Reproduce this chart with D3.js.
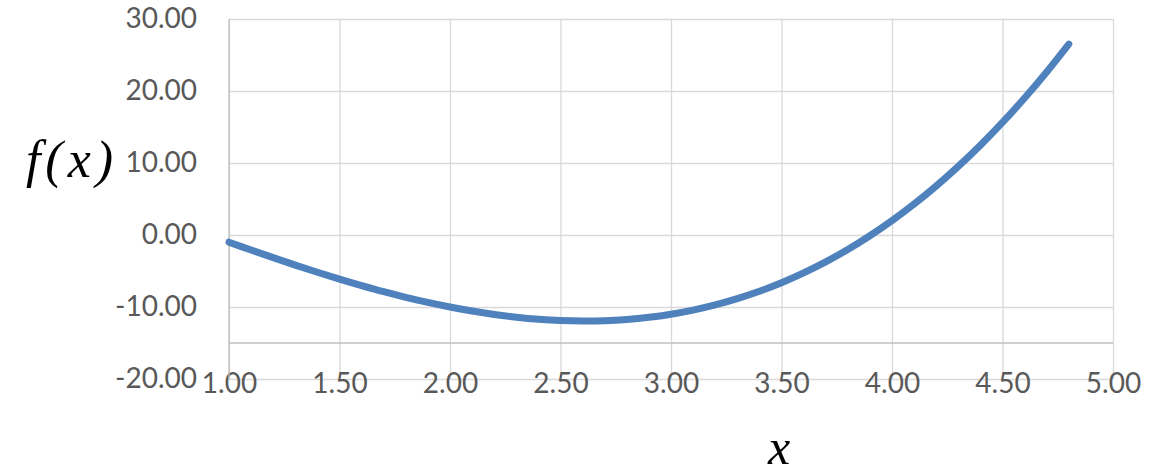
<!DOCTYPE html>
<html>
<head>
<meta charset="utf-8">
<script src="https://cdn.jsdelivr.net/npm/d3@7"></script>
<style>
  html, body { margin: 0; padding: 0; background: #fff; }
  svg { display: block; }
</style>
</head>
<body>
<div id="chart"></div>
<script>
// values
const xValues = [1.0, 1.1, 1.2, 1.3, 1.4, 1.5, 1.6, 1.7, 1.8, 1.9,
  2.0, 2.1, 2.2, 2.3, 2.4, 2.5, 2.6, 2.7, 2.8, 2.9,
  3.0, 3.1, 3.2, 3.3, 3.4, 3.5, 3.6, 3.7, 3.8, 3.9,
  4.0, 4.1, 4.2, 4.3, 4.4, 4.5, 4.6, 4.7, 4.8];
const fValues = [-1.00, -2.09, -3.15, -4.18, -5.18, -6.13, -7.02, -7.87, -8.65, -9.36,
  -10.00, -10.56, -11.03, -11.41, -11.70, -11.88, -11.94, -11.90, -11.73, -11.43,
  -11.00, -10.43, -9.71, -8.84, -7.82, -6.63, -5.26, -3.73, -2.01, -0.10,
  2.00, 4.30, 6.81, 9.53, 12.46, 15.63, 19.02, 22.64, 26.51];
const xTicks = [1.0, 1.5, 2.0, 2.5, 3.0, 3.5, 4.0, 4.5, 5.0];
const yTicks = [-20, -10, 0, 10, 20, 30];
const axisCross = -15;

const svgWidth = 1165;
const svgHeight = 476;
const margin = { top: 19, right: 52, bottom: 97, left: 229 };
const width = svgWidth - margin.left - margin.right;
const height = svgHeight - margin.top - margin.bottom;

const svg = d3.select('#chart')
  .append('svg')
  .attr('width', svgWidth)
  .attr('height', svgHeight);

const chartGroup = svg.append('g')
  .attr('transform', `translate(${margin.left}, ${margin.top})`);

const xScale = d3.scaleLinear().domain([1, 5]).range([0, width]);
const yScale = d3.scaleLinear().domain([-20, 30]).range([height, 0]);

const labelFont = 'Lato, "Open Sans", sans-serif';
const fmt = d => d.toFixed(2);

// horizontal gridlines + y labels
const yAxis = chartGroup.append('g')
  .call(d3.axisLeft(yScale).tickValues(yTicks).tickSize(-width).tickPadding(32)
    .tickFormat(fmt));
yAxis.select('.domain').remove();
yAxis.selectAll('line').attr('stroke', '#d9d9d9').attr('stroke-width', 1.3);
yAxis.selectAll('text')
  .attr('fill', '#595959')
  .style('font-family', labelFont)
  .style('font-size', '28px');

// vertical gridlines + x labels
const xAxis = chartGroup.append('g')
  .attr('transform', `translate(0, ${height})`)
  .call(d3.axisBottom(xScale).tickValues(xTicks).tickSize(-height).tickPadding(-6)
    .tickFormat(fmt));
xAxis.select('.domain').remove();
xAxis.selectAll('line').attr('stroke', '#d9d9d9').attr('stroke-width', 1.3);
xAxis.selectAll('text')
  .attr('fill', '#595959')
  .style('font-family', labelFont)
  .style('font-size', '28px');

// axis lines
chartGroup.append('line')
  .attr('x1', 0).attr('x2', width)
  .attr('y1', yScale(axisCross)).attr('y2', yScale(axisCross))
  .attr('stroke', '#bfbfbf').attr('stroke-width', 1.3);
chartGroup.append('line')
  .attr('x1', xScale(1)).attr('x2', xScale(1))
  .attr('y1', 0).attr('y2', height)
  .attr('stroke', '#bfbfbf').attr('stroke-width', 1.3);

// the curve
const points = xValues.map((x, i) => [x, fValues[i]]);
const line = d3.line()
  .x(d => xScale(d[0]))
  .y(d => yScale(d[1]))
  .curve(d3.curveCatmullRom);

chartGroup.append('path')
  .datum(points)
  .attr('d', line)
  .attr('fill', 'none')
  .attr('stroke', '#4f81bd')
  .attr('stroke-width', 7)
  .attr('stroke-linecap', 'round')
  .attr('stroke-linejoin', 'round');

// axis titles
const mathFont = '"Liberation Serif", "DejaVu Serif", serif';
svg.append('text')
  .attr('x', 72)
  .attr('y', 177)
  .attr('text-anchor', 'middle')
  .style('font-family', mathFont)
  .style('font-style', 'italic')
  .style('font-size', '52px')
  .style('letter-spacing', '5px')
  .text('f(x)');

svg.append('text')
  .attr('x', 779)
  .attr('y', 464)
  .attr('text-anchor', 'middle')
  .style('font-family', mathFont)
  .style('font-style', 'italic')
  .style('font-size', '50px')
  .text('x');
</script>
</body>
</html>
